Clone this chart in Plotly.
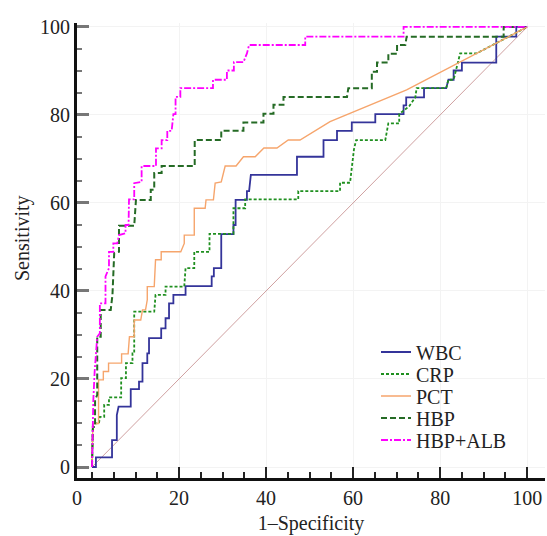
import plotly.graph_objects as go

# ROC curves: (1-Specificity %, Sensitivity %)
wbc = [(0,0),(0.9,0),(0.9,2.2),(4.6,2.2),(4.6,6.1),(5.7,6.1),(5.7,11.8),(6.1,13.7),(8.9,13.7),(8.9,17.7),
       (10.8,17.7),(10.8,19.4),(11.6,19.4),(11.6,23.6),(12.7,23.6),(12.7,25.8),(13.1,25.8),(13.1,29.3),
       (15.9,29.3),(15.9,31.5),(16.9,31.5),(16.9,33.8),(17.7,33.8),(17.7,37.2),(18.7,37.2),(18.7,39.1),
       (21.5,39.1),(21.5,41.1),(27.5,41.1),(27.5,43.3),(28.0,43.3),(28.0,45.2),(29.7,45.2),(29.7,52.9),
       (32.5,52.9),(32.5,55.0),(33.0,55.0),(33.0,60.7),(35.6,60.7),(35.6,62.7),(36.1,62.7),(36.5,66.4),
       (47.1,66.4),(47.1,70.5),(53.2,70.5),(53.2,74.3),(56.3,74.3),(56.3,76.4),(59.7,76.4),(59.7,78.3),
       (65.1,78.3),(65.1,80.2),(71.6,80.2),(71.6,82.2),(72.2,82.2),(72.2,84.0),(76.3,84.0),(76.3,86.1),
       (81.4,86.1),(81.9,88.0),(83.1,88.0),(83.1,90.1),(85.0,90.1),(85.0,91.9),(92.9,91.9),(92.9,97.8),
       (97.5,97.8),(97.5,100),(100,100)]

crp = [(0,0),(0.2,9.9),(1.6,9.9),(1.8,11.4),(2.8,11.4),(2.8,14.1),(3.9,14.1),(3.9,15.8),(6.7,15.8),
       (6.7,20.2),(7.8,20.2),(7.8,23.6),(9.3,23.6),(9.3,25.8),(9.7,25.8),(9.7,35.3),(14.3,35.3),(14.6,39.1),
       (16.9,39.1),(16.9,41.0),(21.2,41.0),(21.5,45.2),(23.5,45.2),(23.5,48.9),(27.0,48.9),(27.0,53.0),
       (32.5,53.0),(32.5,58.8),(35.2,58.8),(35.2,60.8),(47.4,60.8),(47.4,62.7),(57.0,62.7),(57.0,64.6),
       (59.3,64.6),(60.2,72.2),(60.7,74.3),(67.4,74.3),(68.1,78.1),(70.6,78.1),(70.6,80.2),(72.9,82.0),
       (74.3,84.0),(74.6,86.1),(81.4,86.1),(81.9,88.0),(83.1,88.0),(83.6,90.1),(84.6,94.0),(88.4,94.0),
       (100,100)]

pct = [(0,0),(0.2,9.9),(1.5,9.9),(1.5,19.8),(2.6,19.8),(2.6,21.7),(3.8,21.7),(3.8,23.6),(6.8,23.6),
       (6.8,25.7),(8.3,25.7),(8.6,29.6),(9.7,29.6),(9.7,33.4),(11.2,33.4),(11.6,35.7),(12.3,35.7),
       (12.7,38.0),(12.7,41.0),(14.3,41.0),(14.6,47.1),(15.9,47.1),(15.9,48.9),(20.4,48.9),(21.2,50.8),
       (21.2,52.7),(23.5,52.7),(23.5,58.8),(26.0,58.8),(26.2,60.7),(27.9,60.7),(28.3,64.5),(29.7,64.8),
       (30.6,68.4),(33.1,68.4),(34.8,70.5),(37.5,70.5),(39.5,72.5),(42.5,72.5),(45.1,74.3),(47.8,74.3),
       (54.7,78.5),(72.3,85.7),(100,100)]

hbp = [(0,0),(0.2,9.1),(0.7,9.1),(0.7,15.2),(1.2,16.4),(1.2,29.6),(2.0,29.6),(2.0,35.7),(4.3,35.7),
       (4.7,39.1),(5.1,48.6),(6.2,48.9),(6.2,54.8),(9.7,54.8),(10.1,60.7),(13.5,60.7),(13.5,63.0),
       (14.3,63.0),(14.3,66.8),(16.0,66.8),(16.0,68.4),(23.6,68.4),(23.6,74.3),(29.7,74.3),(29.7,76.4),
       (34.8,76.4),(34.8,78.3),(39.4,78.3),(39.4,80.3),(41.7,80.3),(41.7,82.3),(44.0,82.3),(44.0,84.1),
       (58.6,84.1),(58.9,86.1),(64.3,86.1),(64.3,89.8),(65.5,89.8),(65.5,91.9),(68.1,91.9),(68.1,93.9),
       (70.1,93.9),(70.1,95.9),(72.0,95.9),(72.3,97.8),(94.6,97.8),(94.6,100),(100,100)]

hbp_alb = [(0,0),(0.1,10.7),(0.3,15.2),(0.6,21.6),(0.9,25.5),(1.2,27.7),(1.2,29.6),(1.8,30.4),(1.8,37.2),
           (3.1,37.2),(3.1,43.3),(3.9,45.2),(3.9,48.9),(4.9,48.9),(4.9,50.8),(5.8,50.8),(6.2,52.7),
           (7.7,53.1),(7.7,55.0),(8.4,55.0),(8.4,58.8),(8.5,60.8),(9.7,60.8),(9.7,64.5),(11.4,64.8),
           (11.4,68.4),(14.7,68.4),(14.7,72.4),(16.0,72.4),(16.0,74.3),(17.3,74.3),(17.3,76.4),(18.3,76.4),
           (18.7,80.2),(19.2,80.2),(19.2,84.1),(20.3,84.1),(20.3,86.1),(27.8,86.1),(27.8,88.0),(31.0,88.0),
           (31.0,90.1),(32.6,90.1),(32.6,92.0),(34.8,92.0),(35.6,94.0),(36.1,95.9),(49.0,95.9),(49.0,97.8),
           (71.6,97.8),(71.6,100),(100,100)]

reference_line = [(0,0),(100,100)]

x_tick_vals = [20, 40, 60, 80, 100]
x_tick_text = ["20", "40", "60", "80", "100"]
y_tick_vals = [0, 20, 40, 60, 80, 100]
y_tick_text = ["0", "20", "40", "60", "80", "100"]
minor_vals = [0, 5, 10, 15, 25, 30, 35, 45, 50, 55, 65, 70, 75, 85, 90, 95]

X_LEFT, X_RIGHT = -3.45, 104.1
Y_BOTTOM, Y_TOP = -2.5, 100.9

FONT = "Liberation Serif"

series = [
    ("WBC", wbc, "#34349a", "solid", 1.8, "legend"),
    ("CRP", crp, "#1f8f1f", "3px,2px", 1.8, "legend2"),
    ("PCT", pct, "#f6a56c", "solid", 1.4, "legend3"),
    ("HBP", hbp, "#256b25", "6px,3px", 2.0, "legend4"),
    ("HBP+ALB", hbp_alb, "#ff00ff", "7px,2px,2px,2px", 1.8, "legend5"),
]

fig = go.Figure()
rx, ry = zip(*reference_line)
fig.add_trace(go.Scatter(x=rx, y=ry, mode="lines", showlegend=False, hoverinfo="skip",
                         line=dict(color="#cfa0a0", width=1)))
for name, pts, color, dash, width, leg in series:
    xs, ys = zip(*pts)
    fig.add_trace(go.Scatter(x=xs, y=ys, mode="lines", name=name, legend=leg,
                             line=dict(color=color, dash=dash, width=width)))

row_px = [352, 374, 396, 418, 440]
plot_top, plot_bottom = 23, 478
legend_names = ["legend", "legend2", "legend3", "legend4", "legend5"]
legend_x = (376 - 77) / 468
for lname, py in zip(legend_names, row_px):
    fig.update_layout({lname: dict(x=legend_x, y=(plot_bottom - py) / (plot_bottom - plot_top),
                                   xanchor="left", yanchor="middle", bgcolor="rgba(255,255,255,0)",
                                   borderwidth=0, font=dict(family=FONT, size=20, color="#222"))})

fig.update_layout(
    width=547, height=536,
    margin=dict(l=77, r=2, t=23, b=58, autoexpand=False),
    plot_bgcolor="white", paper_bgcolor="white",
    font=dict(family=FONT, size=20, color="#222"),
    annotations=[dict(text="Sensitivity", textangle=-90, xref="paper", yref="paper",
                      x=(22 - 77) / 468, y=(478 - 238) / 455, xanchor="center", yanchor="middle",
                      showarrow=False, font=dict(family=FONT, size=20, color="#222"))],
)

fig.update_xaxes(
    range=[X_LEFT, X_RIGHT], automargin=False,
    tickmode="array", tickvals=[X_LEFT] + x_tick_vals, ticktext=["0"] + x_tick_text,
    ticks="inside", ticklen=11, tickwidth=2, tickcolor="#222",
    showline=True, linewidth=3, linecolor="#111",
    showgrid=True, gridcolor="#f3f3f3", gridwidth=1, zeroline=False,
    minor=dict(tickmode="array", tickvals=minor_vals, ticks="inside", ticklen=6, tickwidth=1.5,
               tickcolor="#222", showgrid=False),
    tickfont=dict(family=FONT, size=20, color="#222"),
    title=dict(text="1–Specificity", font=dict(family=FONT, size=20, color="#222"), standoff=8),
)
fig.update_yaxes(
    range=[Y_BOTTOM, Y_TOP], automargin=False,
    tickmode="array", tickvals=y_tick_vals, ticktext=y_tick_text,
    ticks="inside", ticklen=12, tickwidth=2.5, tickcolor="#777",
    showline=True, linewidth=3, linecolor="#111",
    showgrid=True, gridcolor="#f3f3f3", gridwidth=1, zeroline=False,
    minor=dict(tickmode="array", tickvals=minor_vals[1:], ticks="inside", ticklen=5, tickwidth=1.5,
               tickcolor="#777", showgrid=False),
    tickfont=dict(family=FONT, size=20, color="#222"),
)

fig.write_html("out.html", config={"displayModeBar": False},
               post_script="document.body.style.margin='0';")
